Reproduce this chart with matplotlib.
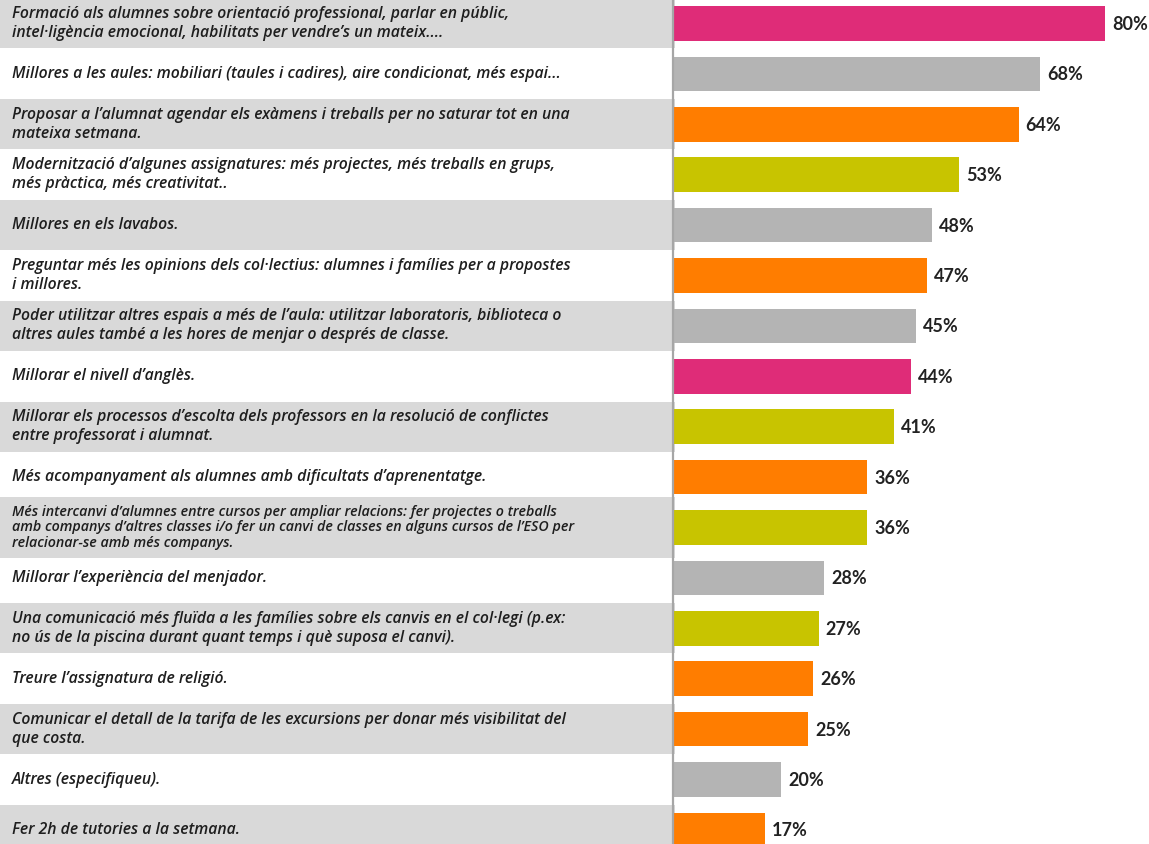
import matplotlib
matplotlib.use("Agg")
import matplotlib.pyplot as plt

# Dades del gràfic
labels = [
    "Formació als alumnes sobre orientació professional, parlar en públic,\nintel·ligència emocional, habilitats per vendre’s un mateix....",
    "Millores a les aules: mobiliari (taules i cadires), aire condicionat, més espai...",
    "Proposar a l’alumnat agendar els exàmens i treballs per no saturar tot en una\nmateixa setmana.",
    "Modernització d’algunes assignatures: més projectes, més treballs en grups,\nmés pràctica, més creativitat..",
    "Millores en els lavabos.",
    "Preguntar més les opinions dels col·lectius: alumnes i famílies per a propostes\ni millores.",
    "Poder utilitzar altres espais a més de l’aula: utilitzar laboratoris, biblioteca o\naltres aules també a les hores de menjar o després de classe.",
    "Millorar el nivell d’anglès.",
    "Millorar els processos d’escolta dels professors en la resolució de conflictes\nentre professorat i alumnat.",
    "Més acompanyament als alumnes amb dificultats d’aprenentatge.",
    "Més intercanvi d’alumnes entre cursos per ampliar relacions: fer projectes o treballs\namb companys d’altres classes i/o fer un canvi de classes en alguns cursos de l’ESO per\nrelacionar-se amb més companys.",
    "Millorar l’experiència del menjador.",
    "Una comunicació més fluïda a les famílies sobre els canvis en el col·legi (p.ex:\nno ús de la piscina durant quant temps i què suposa el canvi).",
    "Treure l’assignatura de religió.",
    "Comunicar el detall de la tarifa de les excursions per donar més visibilitat del\nque costa.",
    "Altres (especifiqueu).",
    "Fer 2h de tutories a la setmana.",
]
values = [80, 68, 64, 53, 48, 47, 45, 44, 41, 36, 36, 28, 27, 26, 25, 20, 17]
groups = ["rosa", "gris", "taronja", "verd", "gris", "taronja", "gris", "rosa", "verd",
          "taronja", "verd", "gris", "verd", "taronja", "taronja", "gris", "taronja"]

colors = {"rosa": "#df2c78", "gris": "#b4b4b4", "taronja": "#ff7d00", "verd": "#c8c400"}

W, H = 1149, 844
fig = plt.figure(figsize=(W / 100, H / 100), dpi=100)
ax = fig.add_axes([0, 0, 1, 1])

# escala: 0% a x=673px
px_per = 5.4
x0 = 673
xmin = -x0 / px_per
xmax = (W - x0) / px_per
row_h = 50.4
top = 23.5
ax.set_xlim(xmin, xmax)
ax.set_ylim((H - top) / row_h, -top / row_h)
ax.axis("off")

n = len(values)
for i in range(n):
    nlines = labels[i].count("\n") + 1
    # bandes grises alternades
    if i % 2 == 0:
        bh = 1.2 if nlines > 2 else 0.99
        ax.barh(i, 0 - xmin + 0.4, left=xmin, height=bh, color="#d9d9d9", zorder=0)
    fs = 10.3 if nlines > 2 else 11.3
    ax.annotate(labels[i], xy=(0, i), xycoords=("axes fraction", "data"),
                xytext=(12, 0), textcoords="offset pixels",
                va="center", ha="left", fontsize=fs, fontstyle="italic",
                fontweight="semibold", family="Open Sans", color="#1e1e1e",
                linespacing=1.25 if nlines < 3 else 1.12)

ax.barh(range(n), values, height=0.69, color=[colors[g] for g in groups], zorder=2)
ax.axvline(0, color="#a6a6a6", lw=1.6, zorder=3)

for i, v in enumerate(values):
    ax.annotate(f"{v}%", xy=(v, i), xytext=(7, -1), textcoords="offset pixels",
                va="center", ha="left", fontsize=13, fontweight="bold",
                family="Lato", color="#222222")

fig.savefig("out.png", dpi=100)
